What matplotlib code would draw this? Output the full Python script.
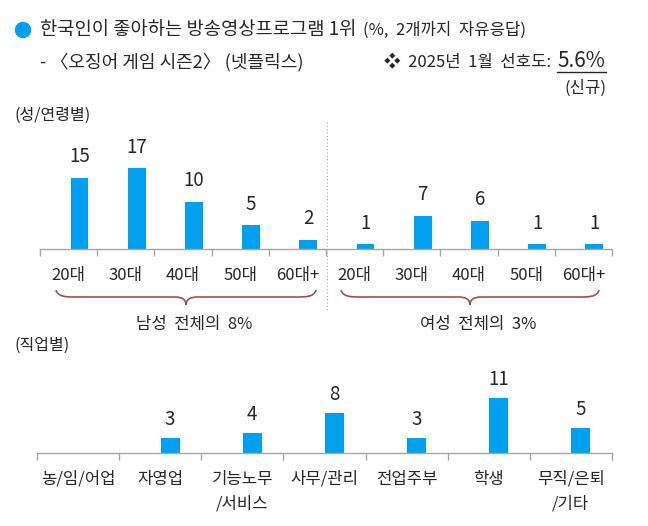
import numpy as np
import matplotlib
matplotlib.use("Agg")
import matplotlib.pyplot as plt
from matplotlib.path import Path
from matplotlib.patches import PathPatch

plt.rcParams['font.family'] = ['Noto Sans CJK KR', 'DejaVu Sans']

# data
age_labels = ['20대', '30대', '40대', '50대', '60대+', '20대', '30대', '40대', '50대', '60대+']
age_values = [15, 17, 10, 5, 2, 1, 7, 6, 1, 1]
job_labels = ['농/임/어업', '자영업', '기능노무\n/서비스', '사무/관리', '전업주부', '학생', '무직/은퇴\n/기타']
job_values = [0, 3, 4, 8, 3, 11, 5]
group_labels = ['남성  전체의  8%', '여성  전체의  3%']

BAR = '#00a0ee'
TXT = '#262626'
GRID = '#a6a6a6'
BRACE = '#a34e4e'

W, H = 648, 526
fig = plt.figure(figsize=(W / 100, H / 100), dpi=100)


def px_axes(left, right, base, height):
    return fig.add_axes([left / W, 1 - base / H, (right - left) / W, height / H])


def style(ax, n):
    for s in ['top', 'right', 'left']:
        ax.spines[s].set_visible(False)
    ax.spines['bottom'].set_color(GRID)
    ax.spines['bottom'].set_linewidth(1)
    ax.set_yticks([])
    ax.set_xlim(0, n)
    ax.set_xticks(np.arange(n + 1))
    ax.set_xticklabels([])
    ax.tick_params(axis='x', direction='out', length=5, color=GRID, width=1)
    ax.patch.set_alpha(0)


# top chart: sex / age
ax1 = px_axes(40, 612, 249, 95)
style(ax1, len(age_values))
ax1.set_ylim(0, 20)
x1 = np.arange(len(age_values)) + 0.5
ax1.bar(x1 + 0.19, age_values, width=0.31, color=BAR)
for x, v, lab in zip(x1, age_values, age_labels):
    ax1.annotate(str(v), (x + 0.19, v), xytext=(0, 15), textcoords='offset points',
                 ha='center', va='center', fontsize=13.5, color=TXT)
    ax1.annotate(lab, (x, 0), xytext=(0, -19), textcoords='offset points',
                 ha='center', va='center', fontsize=12, color=TXT)

# bottom chart: job
ax2 = px_axes(37, 612, 453, 60)
style(ax2, len(job_values))
ax2.set_ylim(0, 12)
x2 = np.arange(len(job_values)) + 0.5
ax2.bar(x2 + 0.12, job_values, width=0.23, color=BAR)
for x, v, lab in zip(x2, job_values, job_labels):
    if v > 0:
        ax2.annotate(str(v), (x + 0.12, v), xytext=(0, 13), textcoords='offset points',
                     ha='center', va='center', fontsize=13.5, color=TXT)
    for k, line in enumerate(lab.split('\n')):
        ax2.annotate(line, (x, 0), xytext=(0, -19 - 18 * k), textcoords='offset points',
                     ha='center', va='center', fontsize=12, color=TXT)

# overlay in pixel coordinates
ov = fig.add_axes([0, 0, 1, 1])
ov.set_xlim(0, W)
ov.set_ylim(H, 0)
ov.axis('off')
ov.patch.set_alpha(0)

ov.add_patch(plt.Circle((23, 30), 7.5, color=BAR))
title = ov.text(40, 30, '한국인이 좋아하는 방송영상프로그램 1위', fontsize=13.5, color=TXT, va='center')
fig.canvas.draw()
title_end = title.get_window_extent().x1
ov.text(title_end + 7, 30, '(%,  2개까지  자유응답)', fontsize=12, color=TXT, va='center')
ov.text(40, 62, '- 〈오징어 게임 시즌2〉 (넷플릭스)', fontsize=13, color=TXT, va='center')
ov.text(384, 62, '❖  2025년  1월  선호도:', fontsize=12, color=TXT, va='center')
ov.text(557, 61, '5.6%', fontsize=15, color=TXT, va='center')
ov.plot([557, 606], [72, 72], color=TXT, lw=1)
ov.text(607, 88, '(신규)', fontsize=12, color=TXT, va='center', ha='right')

ov.text(14, 115, '(성/연령별)', fontsize=11.5, color=TXT, va='center')
ov.text(14, 345, '(직업별)', fontsize=11.5, color=TXT, va='center')

# divider between men and women
ov.plot([326.5, 326.5], [122, 312], color=GRID, lw=0.8, ls=(0, (1, 2)))


def brace(x0, x1, ytop, ymid, ytip):
    xc = (x0 + x1) / 2
    verts = [(x0, ytop), (x0 + 2, ymid), (x0 + 10, ymid), (x0 + 20, ymid),
             (xc - 12, ymid),
             (xc - 3, ymid), (xc, ymid + 3), (xc, ytip),
             (xc, ymid + 3), (xc + 3, ymid), (xc + 12, ymid),
             (x1 - 20, ymid),
             (x1 - 10, ymid), (x1 - 2, ymid), (x1, ytop)]
    codes = [Path.MOVETO, Path.CURVE4, Path.CURVE4, Path.CURVE4,
             Path.LINETO,
             Path.CURVE4, Path.CURVE4, Path.CURVE4,
             Path.CURVE4, Path.CURVE4, Path.CURVE4,
             Path.LINETO,
             Path.CURVE4, Path.CURVE4, Path.CURVE4]
    ov.add_patch(PathPatch(Path(verts, codes), fill=False, edgecolor=BRACE, lw=1.2))
    return xc


for (b0, b1), lab in zip([(56, 316), (341, 599)], group_labels):
    xc = brace(b0, b1, 290, 297, 305)
    ov.text(xc + 8, 325, lab, fontsize=12, color=TXT, ha='center', va='center')

fig.savefig('out.png', dpi=100)
